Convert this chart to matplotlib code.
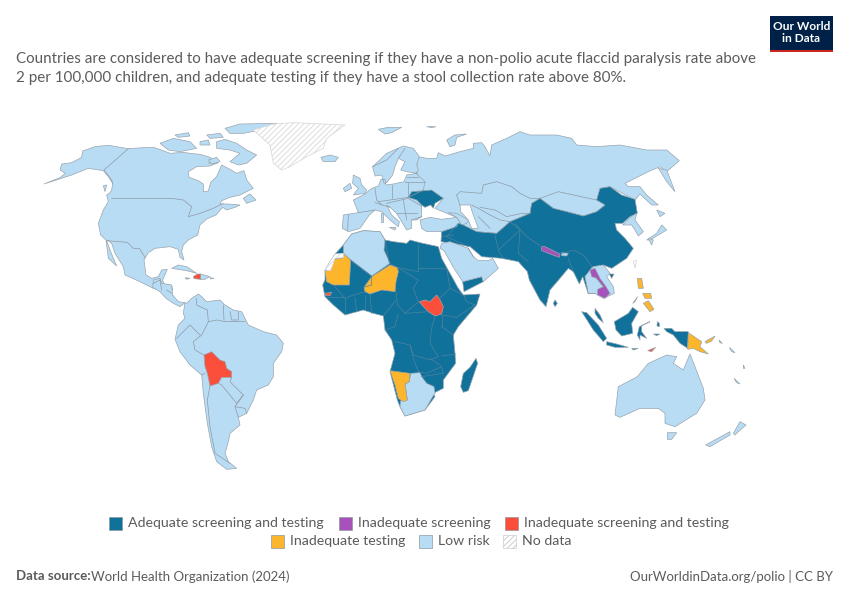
import matplotlib
matplotlib.use('Agg')
import matplotlib.pyplot as plt
from matplotlib.patches import Polygon, Rectangle

plt.rcParams['font.family'] = ['Lato', 'DejaVu Sans']
plt.rcParams['hatch.linewidth'] = 0.7

DARK = '#10719b'
PURPLE = '#a652ba'
RED = '#fb4f3c'
YELLOW = '#fdb52b'
LIGHT = '#b9dcf5'
EDGE = '#98a5ae'
BORDER_LIGHT = '#8d99a3'
BORDER_DARK = '#4f83a0'
TEXT = '#5b5b5b'

AMERICAS_N = (40, 120)
AMERICAS_S = (130, 260)
EUROPE = (310, 120)
AFRICA = (310, 230)
ASIA = (440, 130)
OCEANIA = (560, 260)

north_america = [(12,192),(60,173),(76,160),(60,150),(65,132),(95,128),(125,112),(128,93),(165,80),(205,76),(265,86),(310,83),(340,82),(370,92),(390,100),(430,97),(450,100),(480,103),(510,112),(520,120),(505,130),(535,128),(510,138),(470,140),(445,155),(447,172),(475,182),(490,192),(490,215),(505,213),(512,187),(530,170),(545,135),(570,148),(590,160),(612,152),(620,180),(640,205),(600,225),(570,232),(545,242),(540,252),(565,252),(600,255),(585,262),(560,270),(548,262),(528,285),(500,297),(480,315),(473,345),(445,360),(430,375),(425,395),(432,420),(420,412),(415,388),(390,380),(372,382),(345,385),(325,398),(312,420),(318,465),(335,475),(355,470),(365,450),(382,448),(368,480),(372,492),(395,497),(398,510),(360,510),(340,505),(300,485),(255,465),(250,440),(225,400),(215,370),(205,362),(200,362),(212,395),(230,438),(205,415),(198,360),(182,345),(175,310),(190,270),(205,245),(200,225),(210,218),(215,210),(218,190),(205,170),(190,152),(145,145),(120,155),(95,165)]
baffin = [(530,65),(555,58),(590,70),(620,90),(650,105),(620,130),(595,135),(570,125),(600,100),(570,90),(530,85)]
ellesmere = [(555,25),(600,12),(710,10),(660,30),(610,40),(570,40)]
victoria = [(360,70),(400,55),(450,65),(470,85),(420,95),(385,90)]
banks = [(405,45),(445,38),(450,48),(415,52)]
devon = [(500,45),(540,40),(550,52),(510,55)]
somerset = [(480,65),(505,60),(510,75),(480,75)]
southampton = [(505,120),(530,112),(540,125),(515,132)]
newfoundland = [(610,235),(630,222),(648,240),(620,250)]
vancouver = [(190,197),(200,195),(195,215)]
kodiak = [(30,112),(60,92),(85,112),(60,122)]
cuba = [(395,445),(415,435),(440,440),(470,460),(440,452)]
haiti = [(460,470),(472,462),(482,462),(482,478),(462,476)]
dominican = [(482,462),(510,470),(495,478),(482,478)]
jamaica = [(435,473),(450,475),(440,478)]
puerto_rico = [(510,473),(522,475),(512,477)]
greenland = [(640,30),(700,12),(760,8),(915,15),(860,55),(850,85),(800,110),(750,140),(725,150),(700,130),(690,75)]

central_america = [(70,60),(90,55),(95,70),(125,75),(128,105),(145,125),(165,128),(150,140),(130,130),(108,115),(90,95),(68,82)]
south_america = [(165,128),(170,130),(185,115),(205,102),(215,110),(230,125),(270,120),(285,135),(310,150),(335,155),(355,195),(400,215),(440,225),(460,250),(455,275),(430,310),(430,350),(415,375),(380,390),(370,420),(350,460),(325,472),(330,495),(300,520),(295,545),(285,580),(295,605),(320,625),(290,628),(260,605),(245,560),(232,490),(220,400),(215,345),(180,315),(150,275),(135,238),(145,195),(165,175),(160,160)]
bolivia = [(222,285),(245,275),(270,300),(285,305),(290,325),(305,335),(305,352),(275,352),(265,370),(240,378),(232,340),(225,320)]

europe_main = [(97,325),(100,285),(145,278),(130,240),(165,222),(185,205),(205,198),(213,178),(225,178),(228,195),(250,192),(282,185),(290,165),(320,160),(290,155),(272,150),(285,125),(265,115),(255,140),(248,165),(230,188),(222,190),(215,165),(195,168),(188,140),(230,100),(280,78),(310,85),(328,110),(320,135),(325,150),(318,160),(345,185),(340,210),(335,260),(335,290),(320,300),(305,300),(305,325),(290,330),(260,280),(240,262),(230,255),(245,285),(268,305),(265,320),(240,300),(215,275),(195,270),(178,285),(150,325),(115,335)]
ukraine = [(295,232),(305,215),(345,212),(365,210),(400,235),(375,250),(370,265),(362,255),(345,262),(335,255),(320,240)]
uk = [(130,165),(150,175),(155,195),(170,210),(165,220),(130,225),(145,205),(128,190)]
ireland = [(100,205),(120,190),(125,205),(105,215)]
iceland = [(33,112),(60,105),(85,112),(75,125),(40,125)]
svalbard = [(205,28),(235,22),(275,22),(245,38),(225,42)]
franz_josef = [(350,20),(378,20),(365,23)]
turkey = [(330,300),(360,292),(395,298),(440,292),(455,315),(395,335),(350,335),(335,325)]
caucasus = [(415,278),(440,280),(475,300),(470,310),(455,315),(440,292)]
sicily = [(238,322),(258,322),(255,330)]
sardinia = [(213,280),(220,280),(220,305),(213,305)]

russia_central_asia = [(-65,80),(-40,85),(-10,85),(-5,68),(15,78),(60,65),(100,55),(100,40),(125,38),(135,50),(150,78),(155,45),(200,25),(240,5),(270,15),(350,15),(395,25),(410,45),(470,50),(540,45),(620,60),(680,60),(718,92),(680,125),(660,110),(625,125),(555,160),(565,170),(600,170),(620,195),(655,225),(635,225),(600,192),(585,210),(510,170),(480,175),(470,210),(495,225),(470,245),(430,258),(380,245),(340,235),(300,205),(275,220),(270,250),(210,275),(170,310),(110,305),(60,285),(50,262),(20,250),(-15,235),(10,205),(-50,180),(-65,150),(-70,110)]
caspian = [(60,225),(90,225),(100,255),(115,295),(95,295),(85,270),(62,245)]
novaya_zemlya = [(20,30),(45,15),(80,12),(50,22),(45,45),(30,50)]
kamchatka = [(655,115),(680,120),(705,185),(680,155),(665,130)]
korea = [(548,285),(570,262),(590,250),(585,270),(610,305),(595,318),(585,300),(575,285)]
hokkaido = [(650,240),(675,250),(660,260)]
honshu = [(680,300),(630,330),(620,330),(650,310),(665,285)]
kyushu = [(625,325),(640,330),(635,345)]
south_asia_china = [(5,305),(50,290),(55,280),(70,285),(110,305),(170,310),(210,275),(270,250),(275,220),(300,205),(340,235),(380,245),(430,258),(470,245),(495,225),(470,210),(480,175),(510,170),(545,195),(585,208),(592,250),(570,260),(548,280),(525,280),(530,300),(555,325),(580,355),(560,385),(515,415),(490,405),(458,412),(435,440),(450,480),(445,492),(428,440),(418,462),(400,425),(385,415),(360,445),(330,480),(318,530),(300,510),(268,450),(262,425),(235,395),(185,385),(150,382),(125,380),(90,350),(40,340),(3,335)]
arabia = [(390,55),(395,40),(420,35),(475,55),(490,80),(505,92),(535,92),(548,85),(565,115),(520,155),(515,140),(458,155),(432,115),(402,62)]
yemen = [(458,155),(515,140),(520,155),(462,185)]
se_asia = [(435,440),(458,410),(490,405),(510,430),(500,440),(520,470),(523,490),(490,505),(465,490),(445,490)]
laos_cambodia = [(450,420),(465,415),(480,445),(498,470),(510,490),(495,505),(473,495),(473,478),(490,470),(470,445),(455,440)]
nepal = [(305,350),(315,350),(360,372),(358,382),(330,372),(305,362)]
bhutan = [(365,368),(385,370),(380,378),(365,377)]
taiwan = [(580,395),(590,390),(585,415)]
sri_lanka = [(345,510),(352,520),(345,530),(340,520)]

africa = [(45,120),(60,95),(75,72),(100,45),(125,12),(160,2),(210,5),(225,30),(250,35),(290,40),(300,30),(330,38),(385,50),(395,85),(420,130),(445,175),(460,195),(510,192),(500,225),(445,290),(430,315),(435,370),(437,400),(400,450),(400,475),(370,490),(375,500),(345,540),(285,558),(270,530),(262,510),(240,425),(255,370),(245,330),(225,300),(220,258),(190,250),(160,240),(105,255),(70,225),(45,200),(38,165),(45,150)]
maghreb = [(100,70),(100,45),(125,12),(160,2),(210,5),(225,30),(222,60),(240,100),(185,138),(122,90)]
western_sahara = [(45,120),(60,95),(75,72),(100,70),(100,83),(75,85),(70,100),(62,122)]
mauritania = [(45,122),(62,122),(72,88),(100,83),(100,70),(122,90),(118,165),(70,165),(50,155)]
niger = [(162,172),(185,140),(240,105),(262,112),(265,125),(258,155),(255,185),(215,180),(180,192),(165,185)]
guinea_bissau = [(45,190),(65,187),(60,197),(48,197)]
south_sudan = [(328,215),(345,210),(360,215),(380,195),(388,205),(400,230),(395,252),(375,258),(355,245),(340,230)]
namibia = [(240,422),(300,430),(298,455),(285,462),(292,510),(280,515),(265,505),(255,465)]
southern_africa = [(302,430),(330,428),(335,440),(350,460),(372,470),(375,490),(368,500),(345,540),(285,558),(270,530),(272,512),(292,510),(285,462),(298,455)]
madagascar = [(498,385),(503,400),(475,482),(460,487),(452,470),(460,430),(480,412)]

sumatra = [(65,155),(80,158),(115,195),(140,235),(130,245),(100,210)]
java = [(140,245),(170,252),(205,262),(165,262),(140,255)]
borneo = [(163,185),(205,160),(218,142),(235,155),(215,190),(218,220),(185,228),(168,210)]
sulawesi = [(232,225),(238,200),(270,185),(245,197),(245,215),(260,235),(240,225),(240,240)]
malaysia_west = [(105,145),(120,165),(130,188),(115,175),(105,160)]
hainan = [(148,42),(162,42),(155,55)]
halmahera = [(292,185),(298,190),(298,200),(291,198)]
seram = [(280,222),(300,222),(290,227)]
flores = [(215,265),(235,265),(220,270)]
timor = [(263,272),(287,262),(275,275)]
new_guinea_west = [(312,205),(335,205),(345,215),(385,215),(383,265),(360,250),(340,225),(320,215)]
png = [(385,218),(425,245),(420,260),(445,282),(420,275),(400,265),(383,268)]
new_britain = [(435,245),(465,228),(455,243),(440,250)]
solomon = [(477,240),(487,250),(480,248)]
luzon = [(232,55),(245,55),(250,85),(235,85)]
visayas = [(248,100),(272,100),(275,115),(255,115)]
mindanao = [(250,130),(265,122),(282,148),(270,155)]
palawan = [(218,130),(233,110),(225,125)]
australia = [(165,465),(175,380),(232,350),(265,310),(320,285),(350,290),(340,310),(370,330),(390,282),(405,320),(430,385),(435,420),(410,460),(345,500),(315,490),(315,460),(295,445),(240,445),(180,472)]
tasmania = [(322,518),(350,518),(335,538),(322,538)]
nz_south = [(437,555),(510,515),(510,525),(450,560)]
nz_north = [(520,520),(540,485),(558,495),(535,515),(525,525)]
new_caledonia = [(522,355),(540,372),(530,368)]
vanuatu = [(550,315),(555,325),(550,325)]
fiji = [(508,262),(525,278),(515,275)]

# drawing order matters, later outlines sit on top of earlier ones
regions = [
    (AMERICAS_N, LIGHT, [north_america, baffin, ellesmere, victoria, banks, devon, somerset, southampton, newfoundland, vancouver, cuba, dominican, jamaica, puerto_rico]),
    (AMERICAS_N, RED, [haiti]),
    (AMERICAS_S, LIGHT, [central_america, south_america]),
    (AMERICAS_S, RED, [bolivia]),
    (ASIA, LIGHT, [russia_central_asia, novaya_zemlya, kamchatka, hokkaido, honshu, kyushu]),
    (EUROPE, LIGHT, [europe_main, uk, ireland, iceland, svalbard, franz_josef, turkey, caucasus, sicily, sardinia]),
    (EUROPE, DARK, [ukraine]),
    (ASIA, DARK, [south_asia_china, sri_lanka]),
    (ASIA, LIGHT, [se_asia, korea, bhutan]),
    (ASIA, PURPLE, [laos_cambodia, nepal]),
    (AFRICA, DARK, [africa, madagascar, yemen]),
    (AFRICA, LIGHT, [maghreb, southern_africa, arabia]),
    (AFRICA, YELLOW, [mauritania, niger, namibia]),
    (AFRICA, RED, [guinea_bissau, south_sudan]),
    (OCEANIA, DARK, [sumatra, java, borneo, sulawesi, malaysia_west, hainan, halmahera, seram, flores, new_guinea_west]),
    (OCEANIA, RED, [timor]),
    (OCEANIA, YELLOW, [png, new_britain, solomon, luzon, visayas, mindanao, palawan]),
    (OCEANIA, LIGHT, [australia, tasmania, nz_south, nz_north, new_caledonia, vanuatu, fiji]),
]
no_data = [(AMERICAS_N, greenland), (AFRICA, western_sahara), (ASIA, taiwan)]

borders_light = [
    (AMERICAS_N, [(265,86),(192,150),(215,180),(218,190)]),
    (AMERICAS_N, [(215,235),(395,235),(430,240),(455,260),(445,290),(480,280),(520,265),(550,250)]),
    (AMERICAS_N, [(200,362),(262,367),(280,385),(298,385),(315,412)]),
    (AMERICAS_N, [(340,490),(360,480)]),
    (AMERICAS_S, [(200,115),(200,135),(232,150),(235,185),(215,225),(190,245),(195,270),(222,285)]),
    (AMERICAS_S, [(280,135),(282,180)]),
    (AMERICAS_S, [(300,155),(305,180),(325,180),(325,155)]),
    (AMERICAS_S, [(235,185),(260,180),(285,185),(345,185)]),
    (AMERICAS_S, [(140,235),(180,195),(210,225)]),
    (AMERICAS_S, [(215,345),(225,340)]),
    (AMERICAS_S, [(240,378),(232,420),(240,500),(255,580),(300,610)]),
    (AMERICAS_S, [(305,352),(300,365),(330,395),(340,405),(320,430),(275,375),(265,370)]),
    (AMERICAS_S, [(315,440),(345,445),(350,460)]),
    (AMERICAS_S, [(340,405),(315,440),(325,472)]),
    (AMERICAS_S, [(90,60),(95,90)]),
    (AMERICAS_S, [(110,90),(125,100)]),
    (EUROPE, [(115,285),(113,330)]),
    (EUROPE, [(145,278),(195,270)]),
    (EUROPE, [(195,205),(200,240),(215,255)]),
    (EUROPE, [(245,195),(245,235)]),
    (EUROPE, [(188,140),(230,120),(265,85)]),
    (EUROPE, [(265,115),(285,85)]),
    (EUROPE, [(285,185),(345,185)]),
    (EUROPE, [(290,170),(325,170)]),
    (EUROPE, [(295,190),(295,232),(340,210)]),
    (EUROPE, [(205,245),(240,240),(295,232)]),
    (EUROPE, [(195,248),(240,262)]),
    (EUROPE, [(230,250),(295,235),(335,258)]),
    (EUROPE, [(260,280),(320,280)]),
    (EUROPE, [(305,300),(335,290)]),
    (EUROPE, [(280,240),(290,300)]),
    (ASIA, [(50,195),(60,185),(125,190),(130,165),(170,155),(215,170),(240,190),(270,205),(300,205)]),
    (ASIA, [(50,195),(60,225)]),
    (ASIA, [(95,225),(115,235),(150,255),(180,270),(210,275)]),
    (ASIA, [(120,232),(165,240),(200,260),(245,250),(270,250)]),
    (ASIA, [(115,260),(150,295)]),
    (ASIA, [(300,205),(355,185),(470,210)]),
    (ASIA, [(465,440),(490,470)]),
    (ASIA, [(445,490),(465,490)]),
    (AFRICA, [(475,55),(490,80)]),
]
borders_dark = [
    (AFRICA, [(75,170),(105,205),(130,195),(165,185)]),
    (AFRICA, [(122,90),(185,138),(185,165),(162,172)]),
    (AFRICA, [(225,30),(238,100),(262,112),(325,125),(325,45)]),
    (AFRICA, [(325,115),(410,115),(420,175),(388,205)]),
    (AFRICA, [(262,112),(325,150),(310,175),(325,215),(285,250),(262,225),(258,185)]),
    (AFRICA, [(180,192),(185,250)]),
    (AFRICA, [(220,258),(258,210)]),
    (AFRICA, [(420,175),(450,190),(465,200)]),
    (AFRICA, [(460,195),(470,215),(495,225),(440,262)]),
    (AFRICA, [(395,255),(440,262)]),
    (AFRICA, [(395,290),(430,315)]),
    (AFRICA, [(395,255),(395,290)]),
    (AFRICA, [(285,250),(355,245)]),
    (AFRICA, [(375,258),(365,295),(360,340),(385,380),(360,390),(310,375),(300,345),(255,335)]),
    (AFRICA, [(225,300),(255,290),(265,250)]),
    (AFRICA, [(300,345),(310,385),(325,425)]),
    (AFRICA, [(360,385),(395,410),(350,430),(325,425)]),
    (AFRICA, [(395,378),(437,372)]),
    (AFRICA, [(395,410),(400,430),(335,440)]),
    (AFRICA, [(105,205),(105,250)]),
    (AFRICA, [(135,205),(140,245)]),
    (AFRICA, [(165,195),(165,240)]),
    (AFRICA, [(50,200),(100,200)]),
    (ASIA, [(55,280),(20,320),(85,350)]),
    (ASIA, [(5,320),(40,315)]),
    (ASIA, [(165,315),(175,360),(190,385)]),
    (ASIA, [(210,275),(240,300),(175,360)]),
    (ASIA, [(225,280),(260,320),(305,350)]),
    (ASIA, [(240,300),(235,370),(265,395)]),
    (ASIA, [(360,372),(400,360),(430,375),(458,412)]),
    (ASIA, [(385,385),(400,425)]),
]

legend_row_1 = [('Adequate screening and testing', DARK, 109), ('Inadequate screening', PURPLE, 339), ('Inadequate screening and testing', RED, 505)]
legend_row_2 = [('Inadequate testing', YELLOW, 271), ('Low risk', LIGHT, 419), ('No data', None, 503)]

subtitle = ['Countries are considered to have adequate screening if they have a non-polio acute flaccid paralysis rate above',
            '2 per 100,000 children, and adequate testing if they have a stool collection rate above 80%.']


def to_map(points, origin):
    return [(origin[0] + x / 3, origin[1] + y / 3) for x, y in points]


fig = plt.figure(figsize=(8.5, 6), dpi=100)
ax = fig.add_axes([0, 0, 1, 1])
ax.set_xlim(0, 850)
ax.set_ylim(600, 0)
ax.axis('off')

for origin, colour, outlines in regions:
    for outline in outlines:
        ax.add_patch(Polygon(to_map(outline, origin), closed=True, facecolor=colour, edgecolor=EDGE, linewidth=0.5))

for origin, outline in no_data:
    pts = to_map(outline, origin)
    ax.add_patch(Polygon(pts, closed=True, facecolor='white', edgecolor='#dddddd', hatch='//////', linewidth=0))
    ax.add_patch(Polygon(pts, closed=True, fill=False, edgecolor='#d5d5d5', linewidth=0.5))

ax.add_patch(Polygon(to_map(caspian, ASIA), closed=True, facecolor='white', edgecolor=EDGE, linewidth=0.5))

for origin, line in borders_light:
    pts = to_map(line, origin)
    ax.plot([p[0] for p in pts], [p[1] for p in pts], color=BORDER_LIGHT, lw=0.5)
for origin, line in borders_dark:
    pts = to_map(line, origin)
    ax.plot([p[0] for p in pts], [p[1] for p in pts], color=BORDER_DARK, lw=0.5)

# logo
ax.add_patch(Rectangle((770, 16), 63, 36, facecolor='#002147', edgecolor='none'))
ax.add_patch(Rectangle((770, 49.5), 63, 2.5, facecolor='#ce261e', edgecolor='none'))
ax.text(801.5, 26.5, 'Our World', color='white', fontsize=8.6, fontweight='bold', ha='center', va='center')
ax.text(801.5, 38.5, 'in Data', color='white', fontsize=8.6, fontweight='bold', ha='center', va='center')

for i, line in enumerate(subtitle):
    ax.text(16, 59 + i * 19, line, color=TEXT, fontsize=10.9, va='center')


def legend_row(items, y):
    for label, colour, x in items:
        if colour is None:
            ax.add_patch(Rectangle((x, y - 6.5), 13, 13, facecolor='white', edgecolor='#cccccc', hatch='//////', linewidth=0.5))
        else:
            ax.add_patch(Rectangle((x, y - 6.5), 13, 13, facecolor=colour, edgecolor='#8d99a3', linewidth=0.5))
        ax.text(x + 19, y, label, color=TEXT, fontsize=10.2, va='center')


legend_row(legend_row_1, 523)
legend_row(legend_row_2, 541)

ax.text(16, 576.5, 'Data source:', color=TEXT, fontsize=9.5, fontweight='bold', va='center')
ax.text(91, 576.5, 'World Health Organization (2024)', color=TEXT, fontsize=9.5, va='center')
ax.text(833, 576.5, 'OurWorldinData.org/polio | CC BY', color=TEXT, fontsize=9.5, va='center', ha='right')

fig.savefig('out.png', dpi=100)
